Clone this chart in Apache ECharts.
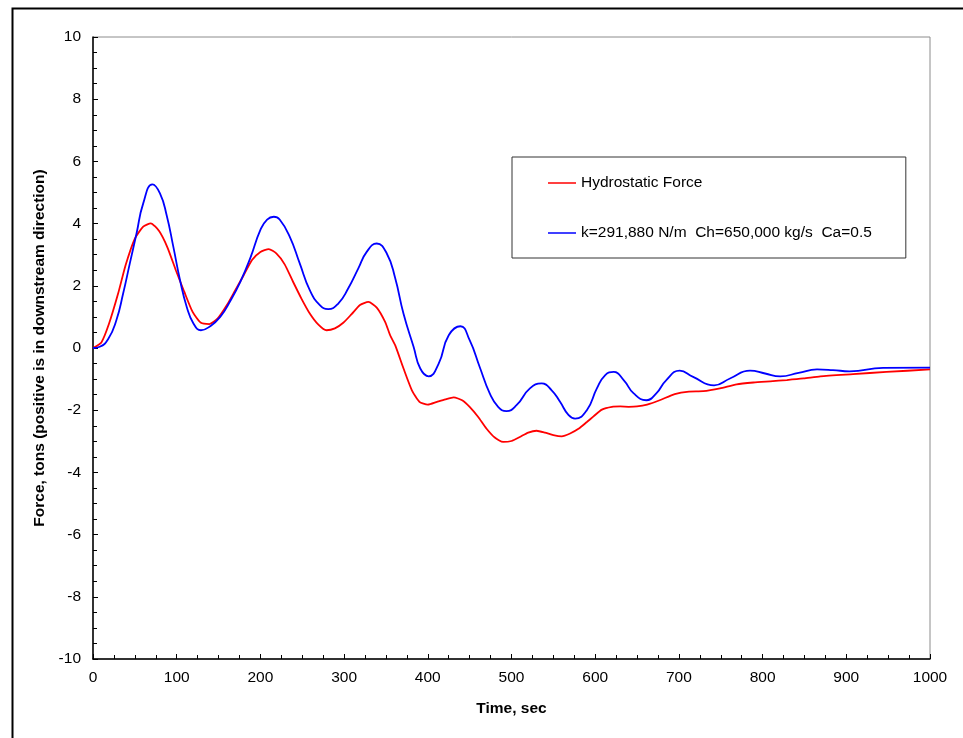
<!DOCTYPE html>
<html>
<head>
<meta charset="utf-8">
<script src="https://cdn.jsdelivr.net/npm/echarts@6/dist/echarts.min.js"></script>
<style>html,body{margin:0;padding:0;background:#fff}#c{width:963px;height:738px}</style>
</head>
<body>
<div id="c"></div>
<script>
const seriesNames = ['Hydrostatic Force', 'k=291,880 N/m  Ch=650,000 kg/s  Ca=0.5'];

const timeRed = [0,10,19,30,39,50,60,69,79,89,99,109,119,129,139,149,160,170,180,190,200,210,219,229,239,249,259,269,279,289,299,309,319,329,339,349,355,361,371,381,390,400,411,421,431,441,450,460,470,480,490,500,510,520,530,540,550,560,570,580,590,598,608,620,630,640,650,662,677,695,712,729,749,769,789,809,829,849,869,908,948,1000];
const forceRed = [0,0.18,0.77,1.75,2.67,3.52,3.90,4.01,3.76,3.23,2.50,1.81,1.16,0.81,0.77,0.95,1.38,1.86,2.34,2.83,3.09,3.18,3.04,2.69,2.13,1.59,1.11,0.76,0.57,0.63,0.81,1.09,1.38,1.48,1.30,0.84,0.41,0.09,-0.66,-1.36,-1.73,-1.82,-1.73,-1.65,-1.59,-1.68,-1.89,-2.21,-2.59,-2.88,-3.02,-2.99,-2.86,-2.72,-2.66,-2.72,-2.80,-2.84,-2.75,-2.60,-2.38,-2.20,-1.98,-1.89,-1.88,-1.89,-1.88,-1.82,-1.68,-1.48,-1.40,-1.39,-1.30,-1.17,-1.11,-1.07,-1.03,-0.98,-0.91,-0.84,-0.77,-0.69];

const timeBlue = [0,8,18,28,36,44,52,60,71,80,88,96,104,112,120,129,140,152,164,176,188,200,208,216,223,235,247,259,271,281,293,305,317,327,339,351,361,371,383,391,401,413,425,439,450,462,474,484,494,506,522,536,548,558,568,576,590,602,612,622,634,646,661,673,685,701,717,742,761,785,803,821,843,865,884,904,944,1000];
const forceBlue = [0,0.04,0.28,0.90,1.75,2.72,3.68,4.65,5.26,4.97,4.27,3.25,2.18,1.32,0.79,0.57,0.70,1.00,1.51,2.13,2.90,3.80,4.13,4.22,4.13,3.58,2.72,1.86,1.38,1.25,1.43,1.92,2.56,3.09,3.36,3.04,2.25,1.10,0.04,-0.66,-0.91,-0.50,0.41,0.70,0.25,-0.61,-1.46,-1.89,-2.03,-1.84,-1.30,-1.14,-1.36,-1.73,-2.15,-2.27,-2.00,-1.30,-0.87,-0.77,-1.03,-1.46,-1.68,-1.46,-1.03,-0.73,-0.93,-1.20,-0.98,-0.73,-0.82,-0.91,-0.80,-0.69,-0.71,-0.75,-0.64,-0.63];

const xTicks = [0,100,200,300,400,500,600,700,800,900,1000];
const yTicks = [-10,-8,-6,-4,-2,0,2,4,6,8,10];

const pairs = (xs, ys) => xs.map((x, i) => [x, ys[i]]);
const FONT = 'Liberation Sans, Arial, sans-serif';
const FS = 15.5;

const chart = echarts.init(document.getElementById('c'), null, {renderer: 'canvas'});
chart.setOption({
  animation: false,
  backgroundColor: '#fff',
  graphic: [{
    type: 'rect', left: 10, top: 6, z: -1,
    shape: {width: 1000, height: 800},
    style: {fill: 'none', stroke: '#000', lineWidth: 2}
  }],
  grid: {left: 93, right: 33, top: 37, bottom: 79, show: true, borderColor: '#8c8c8c', borderWidth: 1, backgroundColor: 'transparent'},
  legend: {
    orient: 'vertical', left: 512, top: 157,
    padding: [18, 34, 17, 36],
    itemGap: 34, itemWidth: 28, itemHeight: 14,
    borderColor: '#333', borderWidth: 1, backgroundColor: '#fff',
    textStyle: {fontFamily: FONT, fontSize: FS, color: '#000'},
    data: seriesNames.map(n => ({name: n, icon: 'path://M0,0L28,0L28,1.5L0,1.5Z'}))
  },
  xAxis: {
    type: 'value', min: xTicks[0], max: xTicks[xTicks.length - 1], interval: 100,
    name: 'Time, sec', nameLocation: 'middle', nameGap: 42,
    nameTextStyle: {fontFamily: FONT, fontSize: FS, fontWeight: 'bold', color: '#000'},
    axisLine: {show: true, onZero: false, lineStyle: {color: '#000', width: 1.5}},
    axisTick: {show: true, inside: true, length: 5, lineStyle: {color: '#000'}},
    minorTick: {show: true, splitNumber: 4, length: 4, lineStyle: {color: '#000'}},
    splitLine: {show: false},
    axisLabel: {fontFamily: FONT, fontSize: FS, color: '#000', margin: 11, formatter: v => String(v)}
  },
  yAxis: {
    type: 'value', min: yTicks[0], max: yTicks[yTicks.length - 1], interval: 2,
    name: 'Force, tons (positive is in downstream direction)', nameLocation: 'middle', nameGap: 40,
    nameTextStyle: {fontFamily: FONT, fontSize: FS, fontWeight: 'bold', color: '#000'},
    axisLine: {show: true, onZero: false, lineStyle: {color: '#000', width: 1.5}},
    axisTick: {show: true, inside: true, length: 5, lineStyle: {color: '#000'}},
    minorTick: {show: true, splitNumber: 4, length: 4, lineStyle: {color: '#000'}},
    splitLine: {show: false},
    axisLabel: {fontFamily: FONT, fontSize: FS, color: '#000', margin: 12}
  },
  series: [{
    name: seriesNames[0], type: 'line', symbol: 'none', smooth: 0.2,
    lineStyle: {color: '#ff0000', width: 1.8}, itemStyle: {color: '#ff0000'},
    data: pairs(timeRed, forceRed)
  }, {
    name: seriesNames[1], type: 'line', symbol: 'none', smooth: 0.5,
    lineStyle: {color: '#0000ff', width: 1.8}, itemStyle: {color: '#0000ff'},
    data: pairs(timeBlue, forceBlue)
  }]
});
</script>
</body>
</html>
